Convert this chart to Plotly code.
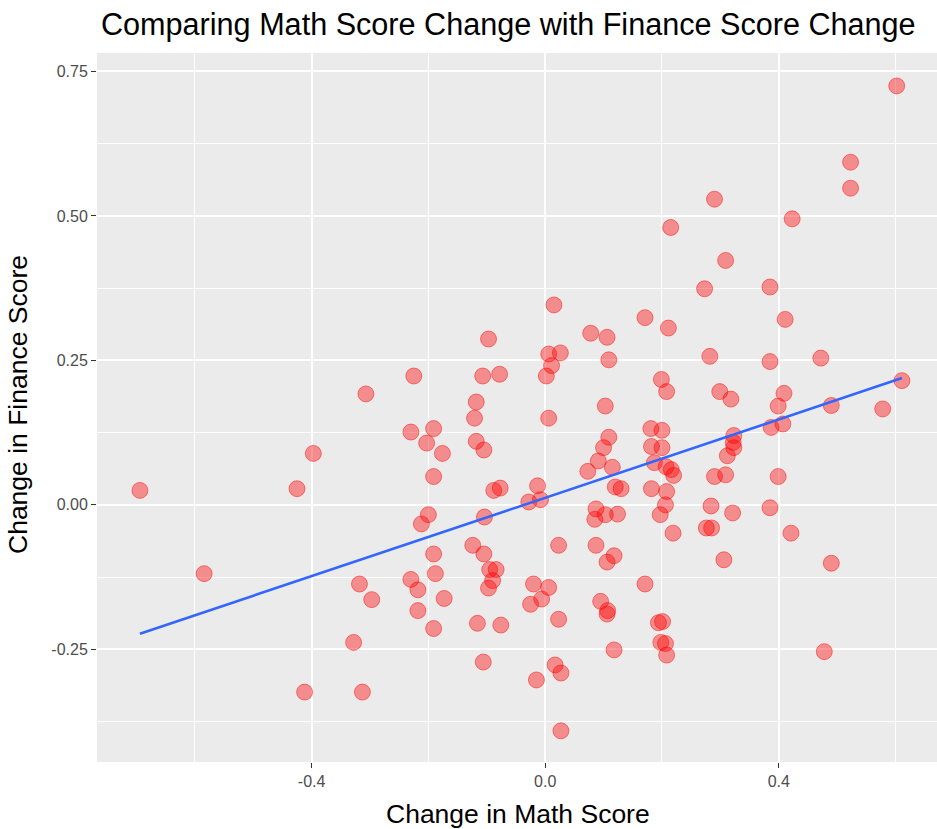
import numpy as np
import plotly.graph_objects as go

# Data
math_change = [
    -0.584, -0.318, -0.297, -0.328, -0.412, -0.313, -0.307, -0.397, -0.425, -0.694,
    0.602, 0.523, 0.523, 0.290, 0.215, 0.423, 0.309, 0.015, 0.171, 0.211,
    -0.097, 0.078, 0.106, 0.006, 0.026, 0.011, 0.002, 0.109, -0.225, -0.107,
    -0.078, 0.199, 0.208, -0.118, 0.103, -0.121, 0.006, -0.230, -0.191, -0.203,
    -0.176, -0.118, -0.105, 0.109, 0.100, 0.181, 0.200, 0.182, 0.200, 0.091,
    0.073, 0.115, 0.187, 0.207, 0.216, 0.220, -0.191, -0.088, -0.077, -0.013,
    -0.028, -0.008, 0.120, 0.130, 0.182, 0.208, 0.206, 0.273, 0.385, 0.411,
    0.282, 0.385, 0.472, 0.299, 0.318, 0.409, 0.399, 0.611, 0.490, 0.578,
    0.387, 0.407, 0.323, 0.322, 0.323, 0.312, 0.290, 0.309, 0.399, 0.284,
    0.385, 0.321, -0.200, -0.212, -0.104, 0.087, 0.085, 0.103, 0.124, 0.197,
    0.219, -0.191, -0.124, -0.105, 0.023, 0.087, 0.118, 0.106, -0.084, -0.095,
    -0.090, -0.097, -0.230, -0.188, -0.218, -0.173, -0.218, -0.191, -0.116, -0.076,
    -0.020, 0.006, -0.006, -0.025, 0.023, 0.095, 0.107, 0.106, 0.171, 0.194,
    0.201, 0.198, 0.206, 0.208, 0.118, -0.106, 0.017, 0.027, -0.015, 0.027,
    0.276, 0.285, 0.421, 0.306, 0.490, 0.478,
]
finance_change = [
    -0.119, -0.137, -0.164, -0.238, -0.324, -0.324, 0.192, 0.089, 0.028, 0.025,
    0.725, 0.593, 0.548, 0.529, 0.480, 0.495, 0.423, 0.346, 0.324, 0.306,
    0.287, 0.297, 0.290, 0.261, 0.263, 0.241, 0.223, 0.251, 0.223, 0.223,
    0.226, 0.217, 0.196, 0.178, 0.171, 0.150, 0.150, 0.126, 0.132, 0.107,
    0.089, 0.110, 0.095, 0.117, 0.099, 0.132, 0.129, 0.101, 0.099, 0.076,
    0.058, 0.065, 0.073, 0.066, 0.061, 0.051, 0.049, 0.025, 0.029, 0.033,
    0.005, 0.009, 0.031, 0.028, 0.028, 0.023, 0.000, 0.374, 0.377, 0.321,
    0.257, 0.248, 0.254, 0.196, 0.183, 0.193, 0.171, 0.215, 0.172, 0.166,
    0.134, 0.140, 0.120, 0.108, 0.099, 0.085, 0.049, 0.052, 0.049, -0.002,
    -0.005, -0.014, -0.017, -0.033, -0.021, -0.007, -0.025, -0.017, -0.016, -0.017,
    -0.049, -0.085, -0.070, -0.085, -0.070, -0.070, -0.088, -0.099, -0.112, -0.112,
    -0.131, -0.144, -0.129, -0.119, -0.147, -0.162, -0.183, -0.214, -0.205, -0.208,
    -0.137, -0.143, -0.163, -0.172, -0.198, -0.167, -0.183, -0.189, -0.137, -0.204,
    -0.202, -0.238, -0.240, -0.260, -0.251, -0.272, -0.277, -0.291, -0.303, -0.391,
    -0.040, -0.040, -0.049, -0.095, -0.101, -0.254,
]

x_tickvals = [-0.4, 0.0, 0.4]
x_ticktext = ["-0.4", "0.0", "0.4"]
y_tickvals = [-0.25, 0.0, 0.25, 0.5, 0.75]
y_ticktext = ["-0.25", "0.00", "0.25", "0.50", "0.75"]

title_text = "Comparing Math Score Change with Finance Score Change"
x_title = "Change in Math Score"
y_title = "Change in Finance Score"

# Linear fit (like geom_smooth(method = "lm", se = FALSE))
xs = np.array(math_change)
ys = np.array(finance_change)
slope, intercept = np.polyfit(xs, ys, 1)
fit_x = np.linspace(xs.min(), xs.max(), 80)
fit_y = slope * fit_x + intercept

fig = go.Figure()
fig.add_trace(go.Scatter(
    x=math_change, y=finance_change, mode="markers",
    marker=dict(size=16, color="rgba(255,0,0,0.4)",
                line=dict(width=1, color="rgba(255,0,0,0.45)")),
    showlegend=False, hoverinfo="x+y",
))
fig.add_trace(go.Scatter(
    x=fit_x, y=fit_y, mode="lines",
    line=dict(color="#3366FF", width=2.6),
    showlegend=False,
))

W, H = 937, 829
L, R, T, B = 97, 0, 53, 67
pw, ph = W - L - R, H - T - B

def px_to_paper_x(px):
    return (px - L) / pw

def py_to_paper_y(py):
    return (H - B - py) / ph

font_family = "Liberation Sans, Arial, sans-serif"

fig.update_layout(
    width=W, height=H,
    margin=dict(l=L, r=R, t=T, b=B, pad=0),
    paper_bgcolor="white",
    plot_bgcolor="#EBEBEB",
    font=dict(family=font_family, color="#4D4D4D", size=16),
    showlegend=False,
    annotations=[
        dict(text=title_text, xref="paper", yref="paper",
             x=px_to_paper_x(99), y=py_to_paper_y(24),
             xanchor="left", yanchor="middle", showarrow=False,
             font=dict(size=30.6, color="black", family=font_family)),
        dict(text=x_title, xref="paper", yref="paper",
             x=px_to_paper_x(518), y=py_to_paper_y(814),
             xanchor="center", yanchor="middle", showarrow=False,
             font=dict(size=26.5, color="black", family=font_family)),
        dict(text=y_title, xref="paper", yref="paper",
             x=px_to_paper_x(18), y=py_to_paper_y(405),
             xanchor="center", yanchor="middle", showarrow=False, textangle=-90,
             font=dict(size=26.5, color="black", family=font_family)),
    ],
)

fig.update_xaxes(
    range=[-0.7675, 0.671],
    tickmode="array", tickvals=x_tickvals, ticktext=x_ticktext,
    ticks="outside", ticklen=5, tickwidth=1.3, tickcolor="#333333",
    tickfont=dict(size=16, color="#4D4D4D"),
    showgrid=True, gridcolor="white", gridwidth=1.8,
    minor=dict(tickmode="array", tickvals=[-0.6, -0.2, 0.2, 0.6],
               showgrid=True, gridcolor="white", gridwidth=1.0, ticks=""),
    zeroline=False, showline=False,
)
fig.update_yaxes(
    range=[-0.445, 0.782],
    tickmode="array", tickvals=y_tickvals, ticktext=y_ticktext,
    ticks="outside", ticklen=5, tickwidth=1.3, tickcolor="#333333",
    tickfont=dict(size=16, color="#4D4D4D"),
    showgrid=True, gridcolor="white", gridwidth=1.8,
    minor=dict(tickmode="array", tickvals=[-0.375, -0.125, 0.125, 0.375, 0.625],
               showgrid=True, gridcolor="white", gridwidth=1.0, ticks=""),
    zeroline=False, showline=False,
)

fig.write_html(
    "out.html",
    config={"displayModeBar": False},
    post_script="document.body.style.margin='0px';document.body.style.overflow='hidden';",
)
